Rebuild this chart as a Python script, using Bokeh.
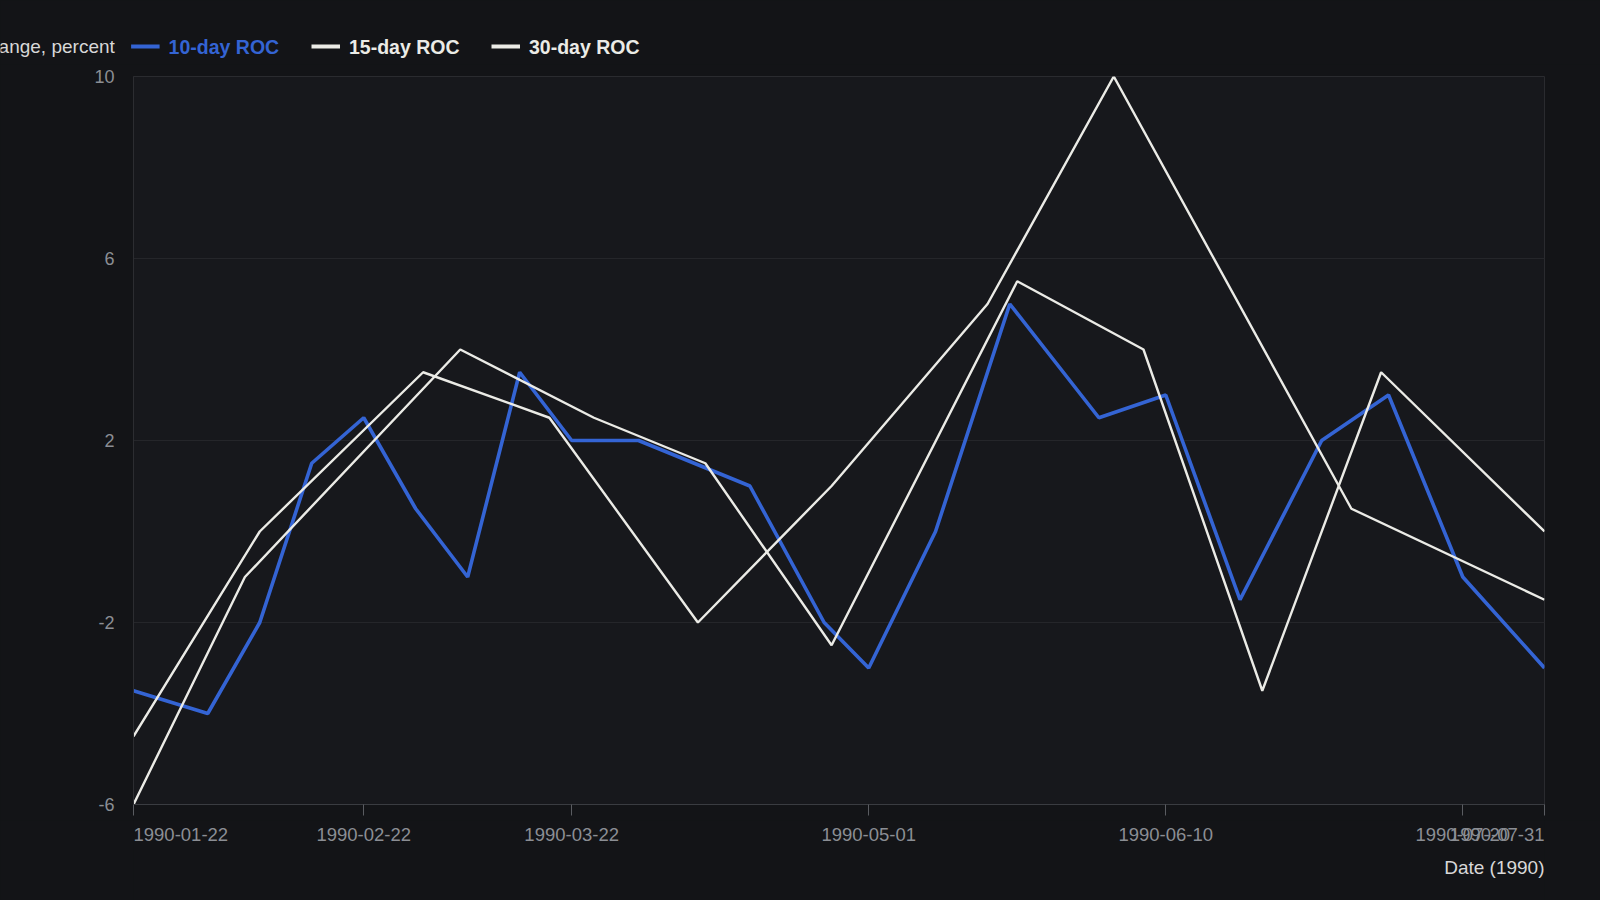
import pandas as pd
from bokeh.plotting import figure
from bokeh.layouts import column
from bokeh.models import Range1d, FixedTicker
from bokeh.core.properties import value
from bokeh.embed import file_html
from bokeh.resources import INLINE

# ---- data ----
roc10_dates = ["1990-01-22", "1990-02-01", "1990-02-08", "1990-02-15", "1990-02-22",
               "1990-03-01", "1990-03-08", "1990-03-15", "1990-03-22", "1990-03-31",
               "1990-04-15", "1990-04-25", "1990-05-01", "1990-05-10", "1990-05-20",
               "1990-06-01", "1990-06-10", "1990-06-20", "1990-07-01", "1990-07-10",
               "1990-07-20", "1990-07-31"]
roc10_values = [-3.5, -4, -2, 1.5, 2.5, 0.5, -1, 3.5, 2, 2, 1, -2, -3, 0, 5,
                2.5, 3, -1.5, 2, 3, -1, -3]

roc15_dates = ["1990-01-22", "1990-02-06", "1990-03-07", "1990-03-25", "1990-04-09",
               "1990-04-26", "1990-05-21", "1990-06-07", "1990-06-23", "1990-07-09",
               "1990-07-31"]
roc15_values = [-6, -1, 4, 2.5, 1.5, -2.5, 5.5, 4, -3.5, 3.5, 0]

roc30_dates = ["1990-01-22", "1990-02-08", "1990-03-02", "1990-03-19", "1990-04-08",
               "1990-04-26", "1990-05-17", "1990-06-03", "1990-07-05", "1990-07-31"]
roc30_values = [-4.5, 0, 3.5, 2.5, -2, 1, 5, 10, 0.5, -1.5]

series_names = ["10-day ROC", "15-day ROC", "30-day ROC"]
x_tick_labels = ["1990-01-22", "1990-02-22", "1990-03-22", "1990-05-01",
                 "1990-06-10", "1990-07-20", "1990-07-31"]
y_ticks = [-6, -2, 2, 6, 10]
y_tick_labels = ["-6", "-2", "2", "6", "10"]
y_title = "Change, percent"
x_title = "Date (1990)"

# ---- style / layout ----
BLUE = "#3464d4"
WHITE = "#ebebe6"
SERIES_COLORS = [BLUE, WHITE, WHITE]
FONT = "Liberation Sans"
TICK_COLOR = "#8b8e94"
TITLE_COLOR = "#d8d8d8"
BG_OUT = "#131417"
BG_IN = "#17181c"

W = 1600
HEAD_H = 64
MAIN_TOP = 12
FRAME_H = 728
MAIN_BOTTOM = 16
FOOT_H = 900 - HEAD_H - MAIN_TOP - FRAME_H - MAIN_BOTTOM
LEFT = 133
RIGHT = 56
HEAD_MID = HEAD_H - 46          # vertical centre of legend row
LEG_SWATCH_X = [130.6, 311.0, 491.0]
LEG_SWATCH_W = 28.5
LEG_TEXT_GAP = 9.0


def ms(d):
    return pd.Timestamp(d).value / 1e6


def to_dt(lst):
    return [pd.Timestamp(d) for d in lst]


x_range = Range1d(ms(x_tick_labels[0]), ms(x_tick_labels[-1]))
y_range = Range1d(y_ticks[0], y_ticks[-1])

# ---------------- main plot ----------------
p = figure(width=W, height=MAIN_TOP + FRAME_H + MAIN_BOTTOM, x_axis_type="datetime",
           x_range=x_range, y_range=y_range,
           output_backend="svg", toolbar_location=None,
           min_border_left=LEFT, min_border_right=RIGHT,
           min_border_top=MAIN_TOP, min_border_bottom=MAIN_BOTTOM)
p.border_fill_color = BG_OUT
p.background_fill_color = BG_IN
p.outline_line_color = "#2a2b2f"

for dates, vals, c, lw in ((roc10_dates, roc10_values, BLUE, 3.6),
                           (roc15_dates, roc15_values, WHITE, 2.4),
                           (roc30_dates, roc30_values, WHITE, 2.4)):
    p.line(to_dt(dates), vals, line_color=c, line_width=lw)

p.xgrid.visible = False
p.ygrid.grid_line_color = "#25262a"
p.yaxis.ticker = FixedTicker(ticks=y_ticks)
p.yaxis.major_label_overrides = dict(zip(y_ticks, y_tick_labels))
p.yaxis.axis_line_color = "#2c2d31"
p.yaxis.major_tick_out = 0
p.yaxis.major_tick_in = 0
p.yaxis.minor_tick_line_color = None
p.yaxis.major_label_standoff = 19
p.yaxis.major_label_text_font = FONT
p.yaxis.major_label_text_font_size = "18px"
p.yaxis.major_label_text_color = TICK_COLOR

x_tick_ms = [ms(d) for d in x_tick_labels]
p.xaxis.ticker = FixedTicker(ticks=x_tick_ms)
p.xaxis.major_label_overrides = {t: "" for t in x_tick_ms}
p.xaxis.major_label_text_font_size = "0px"
p.xaxis.major_label_standoff = 0
p.xaxis.axis_line_color = "#3a3c41"
p.xaxis.major_tick_line_color = "#5a5c61"
p.xaxis.major_tick_out = 11
p.xaxis.major_tick_in = 0
p.xaxis.minor_tick_line_color = None

# ---------------- header strip: y title + legend ----------------
head = figure(width=W, height=HEAD_H, x_range=Range1d(0, W), y_range=Range1d(0, HEAD_H),
              output_backend="svg", toolbar_location=None,
              x_axis_location=None, y_axis_location=None,
              min_border_left=0, min_border_right=0,
              min_border_top=0, min_border_bottom=0)
if "frame_align" in head.properties():
    head.frame_align = False
head.outline_line_color = None
head.background_fill_color = BG_OUT
head.border_fill_color = BG_OUT
head.grid.visible = False

head.text(x=[LEFT - 18.7], y=[HEAD_MID], text=[y_title],
          text_align="right", text_baseline="middle",
          text_font=value(FONT), text_font_size="19px", text_color=TITLE_COLOR)

head.segment(x0=LEG_SWATCH_X, y0=[HEAD_MID] * 3,
             x1=[x + LEG_SWATCH_W for x in LEG_SWATCH_X], y1=[HEAD_MID] * 3,
             line_color=SERIES_COLORS, line_width=4)
head.text(x=[x + LEG_SWATCH_W + LEG_TEXT_GAP for x in LEG_SWATCH_X], y=[HEAD_MID] * 3,
          text=series_names, text_color=SERIES_COLORS,
          text_align="left", text_baseline="middle",
          text_font=value(FONT), text_font_style="bold", text_font_size="19.5px")

# ---------------- footer strip: x tick labels + x title ----------------
foot = figure(width=W, height=FOOT_H, x_axis_type="datetime",
              x_range=x_range, y_range=Range1d(0, FOOT_H),
              output_backend="svg", toolbar_location=None,
              x_axis_location=None, y_axis_location=None,
              min_border_left=LEFT, min_border_right=RIGHT,
              min_border_top=0, min_border_bottom=0)
foot.outline_line_color = None
foot.background_fill_color = BG_OUT
foot.border_fill_color = BG_OUT
foot.grid.visible = False

tick_y = FOOT_H - 14
groups = [("left", x_tick_labels[:1]), ("center", x_tick_labels[1:-1]),
          ("right", x_tick_labels[-1:])]
for align, labs in groups:
    foot.text(x=to_dt(labs), y=[tick_y] * len(labs), text=labs,
              text_align=align, text_baseline="middle",
              text_font=value(FONT), text_font_size="18.5px", text_color=TICK_COLOR)

foot.text(x=[pd.Timestamp(x_tick_labels[-1])], y=[FOOT_H - 47], text=[x_title],
          text_align="right", text_baseline="middle",
          text_font=value(FONT), text_font_size="19px", text_color=TITLE_COLOR)

layout = column(head, p, foot, spacing=0, styles={"background-color": BG_OUT})
open("out.html", "w").write(file_html(layout, INLINE))
